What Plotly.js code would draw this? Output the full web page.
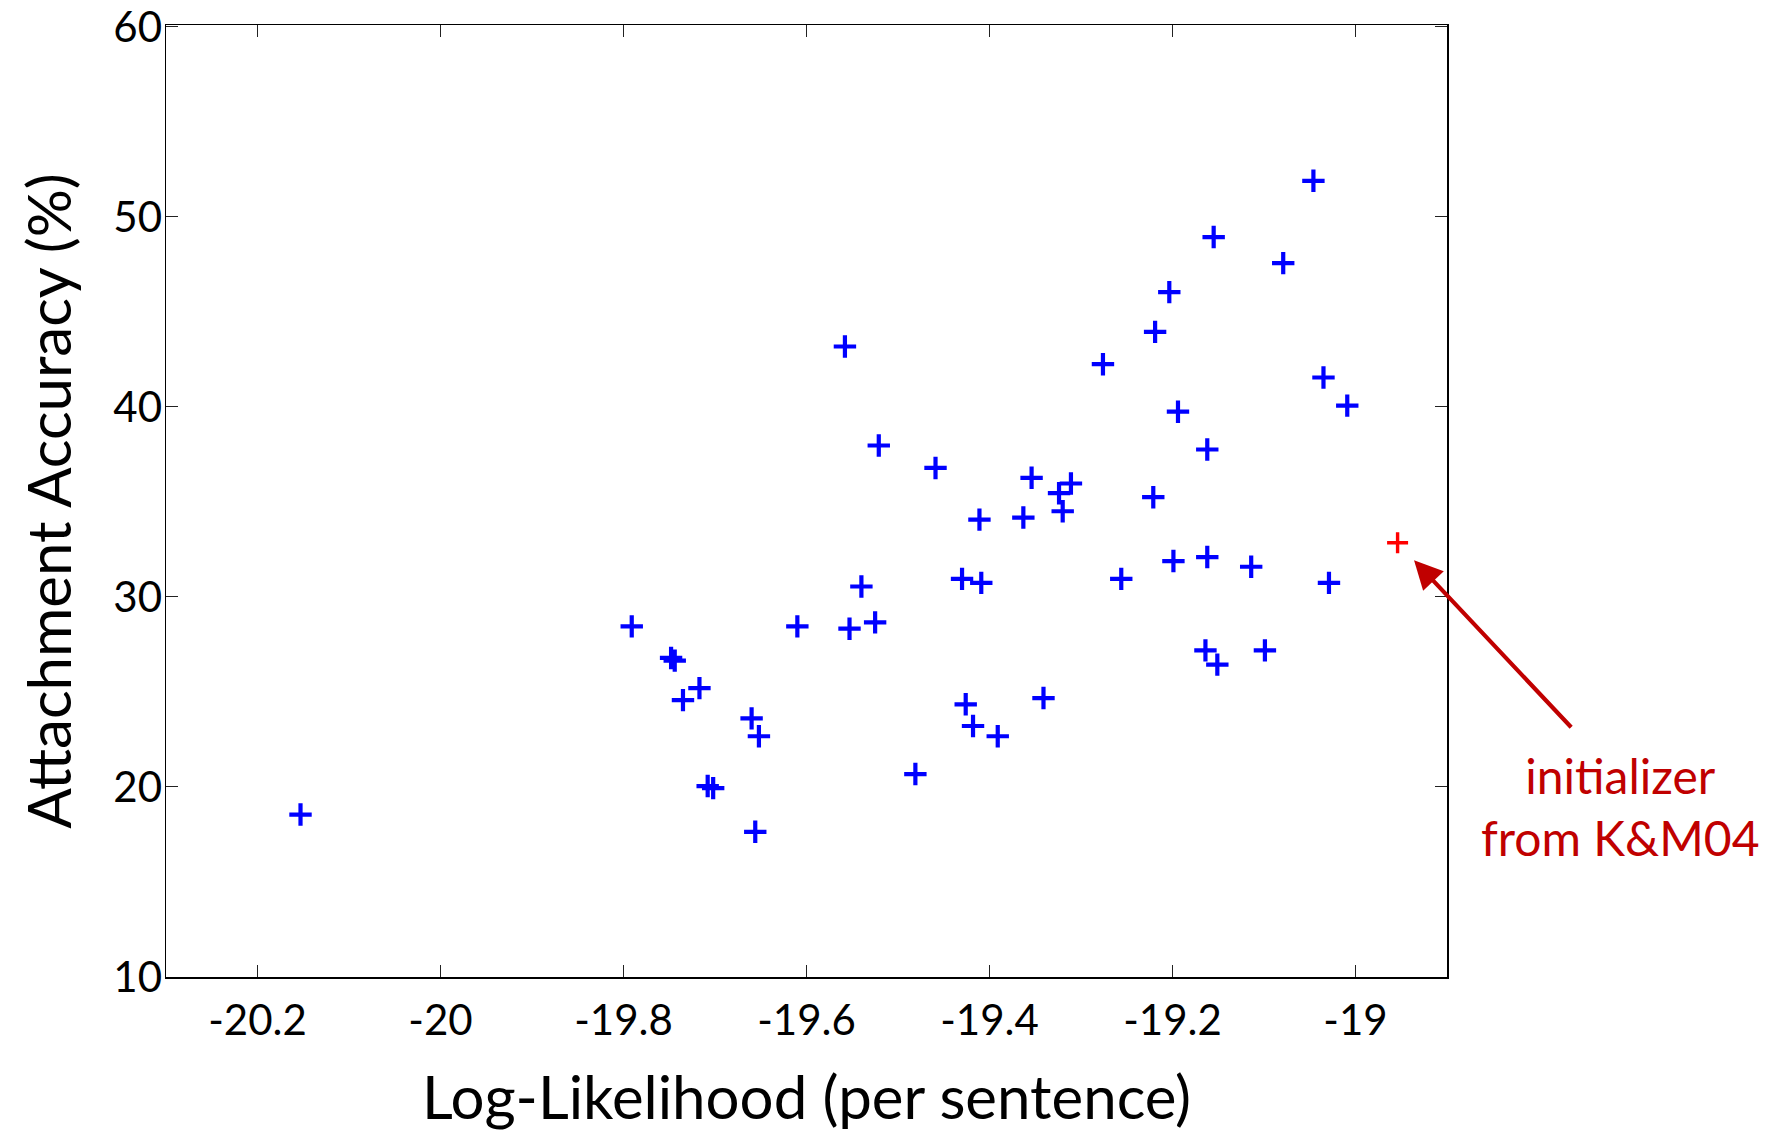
<!DOCTYPE html>
<html>
<head>
<meta charset="utf-8">
<script src="https://cdn.plot.ly/plotly-3.0.1.min.js"></script>
<style>html,body{margin:0;padding:0;background:#fff;}#chart{width:1780px;height:1138px;}</style>
</head>
<body>
<div id="chart"></div>
<script>
// Data
const runLogLik = [-20.153, -19.791, -19.748, -19.744, -19.735, -19.717, -19.708, -19.702, -19.660, -19.652,
  -19.656, -19.610, -19.558, -19.553, -19.540, -19.525, -19.521, -19.481, -19.459, -19.430,
  -19.426, -19.418, -19.411, -19.409, -19.391, -19.363, -19.354, -19.341, -19.324, -19.320,
  -19.311, -19.276, -19.256, -19.221, -19.219, -19.2035, -19.199, -19.194, -19.164, -19.162,
  -19.162, -19.155, -19.151, -19.114, -19.099, -19.079, -19.046, -19.035, -19.029, -19.009];
const runAccuracy = [18.55, 28.45, 26.79, 26.65, 24.57, 25.20, 20.05, 19.94, 23.61, 22.67,
  17.64, 28.45, 43.18, 28.33, 30.55, 28.66, 37.97, 20.68, 36.79, 30.95,
  24.35, 23.21, 34.07, 30.74, 22.67, 34.18, 36.27, 24.68, 35.46, 34.51,
  35.97, 42.25, 30.95, 35.25, 43.95, 46.04, 31.89, 39.75, 27.19, 37.76,
  32.10, 48.94, 26.44, 31.59, 27.19, 47.57, 51.9, 41.55, 30.74, 40.07];
const initLogLik = [-18.954];
const initAccuracy = [32.85];
const initLabel = "initializer<br>from K&M04";
const xTickVals = [-20.2, -20, -19.8, -19.6, -19.4, -19.2, -19];
const xTickText = ["-20.2", "-20", "-19.8", "-19.6", "-19.4", "-19.2", "-19"];
const yTickVals = [10, 20, 30, 40, 50, 60];
const yTickText = ["10", "20", "30", "40", "50", "60"];
const xTitle = "Log-Likelihood (per sentence)";
const yTitle = "Attachment Accuracy (%)";

const FONT = "Lato, 'Open Sans', sans-serif";
const DARKRED = "rgb(192,0,0)";

const traces = [
  {
    type: "scatter", mode: "markers",
    x: runLogLik, y: runAccuracy,
    marker: {symbol: "cross-thin", size: 16, line: {color: "#0000ff", width: 4.2}},
    hoverinfo: "x+y", showlegend: false
  },
  {
    type: "scatter", mode: "markers",
    x: initLogLik, y: initAccuracy,
    marker: {symbol: "cross-thin", size: 15, line: {color: "#ff0000", width: 3.4}},
    hoverinfo: "x+y", showlegend: false
  }
];

const axisCommon = {
  showgrid: false, zeroline: false,
  showline: true, linecolor: "#000", linewidth: 1.5,
  mirror: "ticks", ticks: "inside", ticklen: 12, tickwidth: 1, tickcolor: "#222",
  tickfont: {family: FONT, size: 42, color: "#000"}
};

const layout = {
  width: 1780, height: 1138,
  paper_bgcolor: "#fff", plot_bgcolor: "#fff",
  margin: {l: 166, r: 333, t: 25, b: 161, pad: 0},
  font: {family: FONT, color: "#000"},
  xaxis: Object.assign({}, axisCommon, {
    range: [-20.3, -18.9], tickmode: "array", tickvals: xTickVals, ticktext: xTickText,
    ticklabelstandoff: 6,
    title: {text: xTitle, font: {family: FONT, size: 60, color: "#000"}, standoff: 34}
  }),
  yaxis: Object.assign({}, axisCommon, {
    range: [10, 60.1], tickmode: "array", tickvals: yTickVals, ticktext: yTickText,
    ticklabelstandoff: -6, ticklabeloverflow: "allow",
    title: {text: yTitle, font: {family: FONT, size: 60, color: "#000"}, standoff: 22}
  }),
  annotations: [
    {
      x: initLogLik[0], y: initAccuracy[0], xref: "x", yref: "y",
      showarrow: true, text: "", axref: "pixel", ayref: "pixel",
      ax: 175, ay: 186, standoff: 24,
      arrowcolor: DARKRED, arrowwidth: 4.2, arrowhead: 2, arrowsize: 1.35
    },
    {
      x: 1.1358, y: 0.179, xref: "paper", yref: "paper",
      xanchor: "center", yanchor: "middle", showarrow: false,
      text: initLabel, align: "center",
      font: {family: FONT, size: 48, color: DARKRED}
    }
  ]
};

Plotly.newPlot("chart", traces, layout, {displayModeBar: false, staticPlot: true});
</script>
</body>
</html>
